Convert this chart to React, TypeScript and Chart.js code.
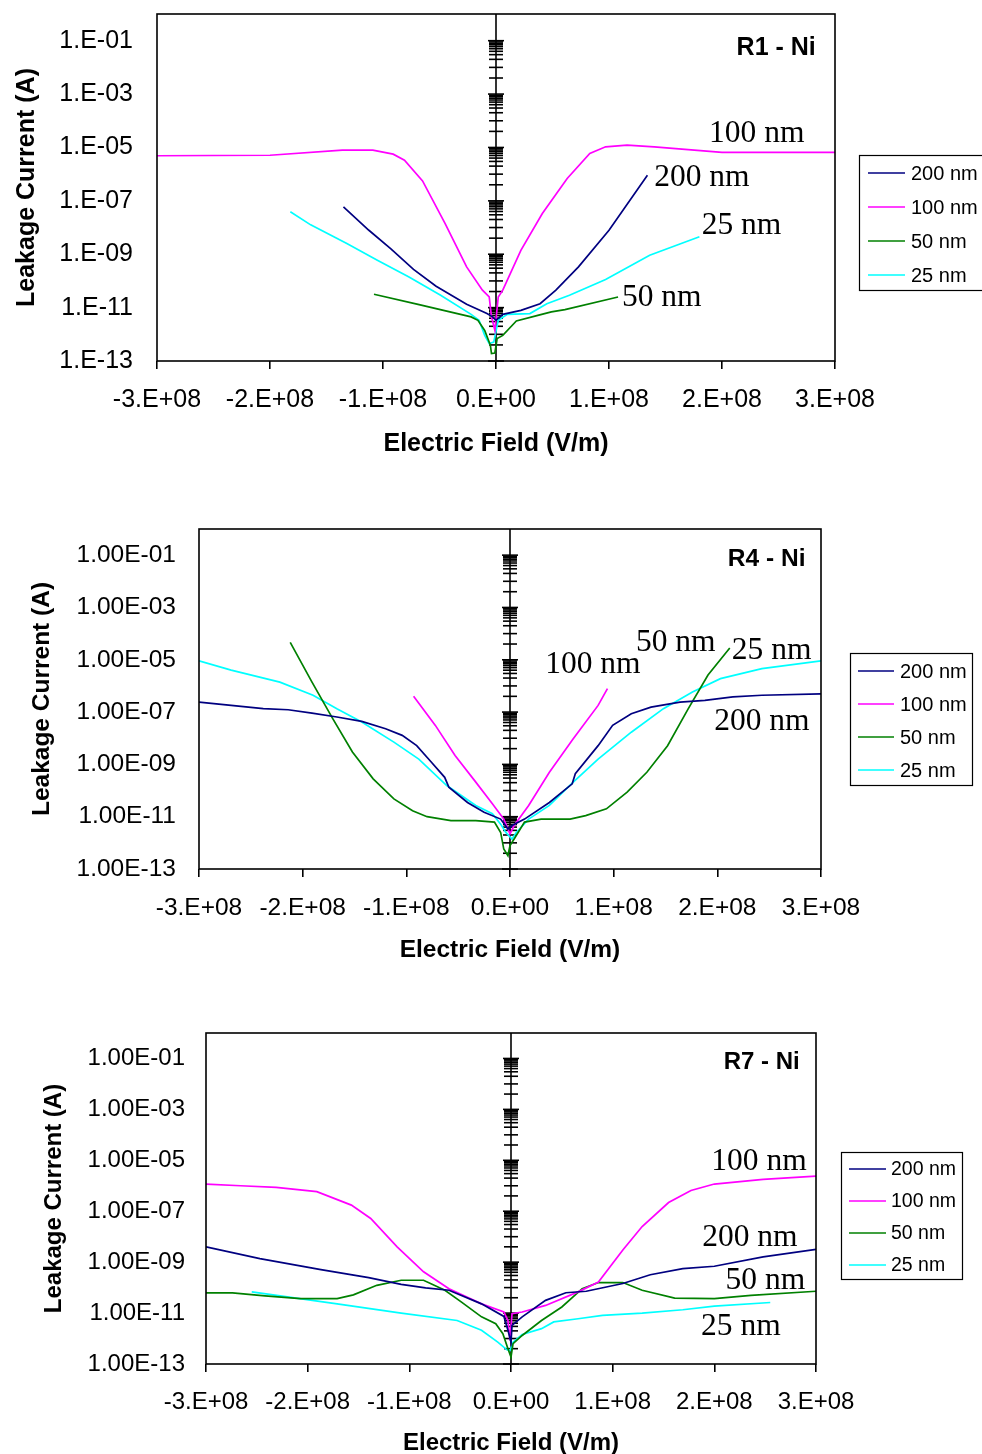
import React, { useEffect, useRef } from 'react';
import { Chart, registerables } from 'chart.js';

Chart.register(...registerables);

// ---------- shared axis data ----------
const xTickValues = [-3e8, -2e8, -1e8, 0, 1e8, 2e8, 3e8];
const xTickLabels = ['-3.E+08', '-2.E+08', '-1.E+08', '0.E+00', '1.E+08', '2.E+08', '3.E+08'];
const yTickValues = [1e-13, 1e-11, 1e-9, 1e-7, 1e-5, 1e-3, 1e-1];
const yTickLabelsShort = ['1.E-13', '1.E-11', '1.E-09', '1.E-07', '1.E-05', '1.E-03', '1.E-01'];
const yTickLabelsLong = ['1.00E-13', '1.00E-11', '1.00E-09', '1.00E-07', '1.00E-05', '1.00E-03', '1.00E-01'];
const centerAxisMinorFactors = [4, 10, 20, 30, 40, 50, 60, 70, 80, 90];
const seriesNames = ['200 nm', '100 nm', '50 nm', '25 nm'];
const seriesColors = ['#000080', '#FF00FF', '#008000', '#00FFFF'];

// ---------- R1 - Ni ----------
const R1_E_200 = [-1.35e8, -1.125e8, -0.93e8, -0.73e8, -0.53e8, -0.26e8, -0.08e8, -0.03e8, 0, 0.06e8, 0.22e8, 0.39e8, 0.53e8, 0.73e8, 1.0e8, 1.34e8];
const R1_I_200 = [6.0e-8, 7.9e-9, 1.6e-9, 2.7e-10, 6.3e-11, 1.33e-11, 6.0e-12, 4.5e-12, 3.35e-12, 5.6e-12, 7.9e-12, 1.4e-11, 4.5e-11, 3.35e-10, 7.9e-9, 9.1e-7];
const R1_E_100 = [-3.0e8, -2.0e8, -1.36e8, -1.09e8, -0.91e8, -0.81e8, -0.65e8, -0.45e8, -0.26e8, -0.12e8, -0.06e8, -0.04e8, -0.01e8, 0.02e8, 0.06e8, 0.22e8, 0.41e8, 0.63e8, 0.83e8, 0.97e8, 1.16e8, 1.4e8, 2.0e8, 3.0e8];
const R1_I_100 = [4.9e-6, 5.1e-6, 7.9e-6, 7.9e-6, 5.6e-6, 3.35e-6, 5.6e-7, 1.4e-8, 3.35e-10, 4.5e-11, 2.5e-11, 4.5e-12, 1.4e-12, 2.5e-11, 4.5e-11, 1.4e-9, 3.35e-8, 6.9e-7, 6.0e-6, 1.06e-5, 1.23e-5, 1.06e-5, 6.5e-6, 6.5e-6];
const R1_E_50 = [-1.08e8, -0.69e8, -0.22e8, -0.16e8, -0.1e8, -0.05e8, -0.04e8, -0.01e8, 0.01e8, 0.06e8, 0.18e8, 0.37e8, 0.49e8, 0.61e8, 1.08e8];
const R1_I_50 = [3.16e-11, 1.33e-11, 4.5e-12, 3.35e-12, 1.4e-12, 3.9e-13, 1.9e-13, 2.0e-13, 6.9e-13, 9.1e-13, 3.16e-12, 5.1e-12, 6.9e-12, 8.4e-12, 2.5e-11];
const R1_E_25 = [-1.82e8, -1.64e8, -1.32e8, -1.05e8, -0.77e8, -0.49e8, -0.22e8, -0.15e8, -0.1e8, -0.06e8, -0.02e8, 0.02e8, 0.1e8, 0.3e8, 0.45e8, 0.65e8, 0.97e8, 1.36e8, 1.8e8];
const R1_I_25 = [3.9e-8, 1.26e-8, 2.5e-9, 6.0e-10, 1.4e-10, 2.9e-11, 5.6e-12, 3.35e-12, 9.1e-13, 4.5e-13, 5.1e-13, 3.35e-12, 5.6e-12, 6.0e-12, 1.4e-11, 2.9e-11, 1.12e-10, 9.1e-10, 4.5e-9];

// ---------- R4 - Ni ----------
const R4_E_200 = [-3.0e8, -2.69e8, -2.38e8, -2.14e8, -1.91e8, -1.67e8, -1.43e8, -1.2e8, -1.04e8, -0.9e8, -0.76e8, -0.63e8, -0.59e8, -0.41e8, -0.25e8, -0.09e8, -0.02e8, 0.02e8, 0.14e8, 0.38e8, 0.6e8, 0.63e8, 0.85e8, 0.99e8, 1.17e8, 1.36e8, 1.64e8, 1.88e8, 2.15e8, 2.43e8, 3.0e8];
const R4_I_200 = [2.4e-7, 1.8e-7, 1.35e-7, 1.23e-7, 9.1e-8, 6.5e-8, 4.4e-8, 2.3e-8, 1.29e-8, 5.2e-9, 1.23e-9, 3.2e-10, 1.35e-10, 3.5e-11, 1.48e-11, 8.1e-12, 3.4e-12, 4.6e-12, 8.1e-12, 3.5e-11, 1.8e-10, 4.4e-10, 5.2e-9, 3.1e-8, 8.7e-8, 1.55e-7, 2.4e-7, 2.8e-7, 3.8e-7, 4.4e-7, 5.0e-7];
const R4_E_100 = [-0.93e8, -0.72e8, -0.53e8, -0.33e8, -0.17e8, -0.06e8, 0, 0.04e8, 0.18e8, 0.38e8, 0.61e8, 0.85e8, 0.94e8];
const R4_I_100 = [4.0e-7, 3.1e-8, 2.2e-9, 2.1e-10, 3.1e-11, 8.1e-12, 2.2e-12, 4.6e-12, 2.7e-11, 5.0e-10, 9.5e-9, 1.8e-7, 7.9e-7];
const R4_E_50 = [-2.12e8, -1.91e8, -1.71e8, -1.52e8, -1.32e8, -1.12e8, -0.94e8, -0.8e8, -0.57e8, -0.33e8, -0.15e8, -0.09e8, -0.06e8, -0.02e8, 0, 0.04e8, 0.14e8, 0.3e8, 0.58e8, 0.73e8, 0.93e8, 1.13e8, 1.32e8, 1.52e8, 1.72e8, 1.91e8, 2.12e8];
const R4_I_50 = [4.6e-5, 1.4e-6, 5.6e-8, 3.0e-9, 2.8e-10, 4.8e-11, 1.7e-11, 1.0e-11, 7.1e-12, 7.1e-12, 6.2e-12, 2.5e-12, 5.8e-13, 3.2e-13, 7.9e-13, 1.4e-12, 6.2e-12, 8.1e-12, 8.1e-12, 1.1e-11, 2.0e-11, 8.7e-11, 5.0e-10, 5.2e-9, 1.35e-7, 2.6e-6, 2.8e-5];
const R4_E_25 = [-3.0e8, -2.69e8, -2.22e8, -1.9e8, -1.67e8, -1.43e8, -1.12e8, -0.88e8, -0.61e8, -0.33e8, -0.17e8, -0.09e8, -0.04e8, 0.02e8, 0.06e8, 0.18e8, 0.38e8, 0.61e8, 0.85e8, 1.17e8, 1.48e8, 1.76e8, 2.03e8, 2.43e8, 3.0e8];
const R4_I_25 = [9.1e-6, 4.0e-6, 1.4e-6, 4.4e-7, 1.35e-7, 4.2e-8, 7.1e-9, 1.6e-9, 1.55e-10, 2.7e-11, 1.3e-11, 5.2e-12, 2.5e-12, 1.4e-12, 2.5e-12, 8.1e-12, 2.7e-11, 2.1e-10, 1.6e-9, 1.7e-8, 1.35e-7, 5.9e-7, 1.9e-6, 4.6e-6, 9.1e-6];

// ---------- R7 - Ni ----------
const R7_E_200 = [-3.0e8, -2.47e8, -1.87e8, -1.4e8, -1.08e8, -0.84e8, -0.61e8, -0.29e8, -0.07e8, -0.03e8, 0, 0.01e8, 0.11e8, 0.34e8, 0.54e8, 0.74e8, 1.1e8, 1.37e8, 1.69e8, 2.0e8, 2.48e8, 3.0e8];
const R7_I_200 = [4.0e-9, 1.38e-9, 5.1e-10, 2.45e-10, 1.35e-10, 9.8e-11, 7.9e-11, 2.3e-11, 7.4e-12, 2.1e-12, 7.2e-13, 3.3e-12, 7.1e-12, 3.16e-11, 6.3e-11, 7.2e-11, 1.45e-10, 3.2e-10, 5.6e-10, 6.9e-10, 1.6e-9, 3.16e-9];
const R7_E_100 = [-3.0e8, -2.66e8, -2.31e8, -1.91e8, -1.57e8, -1.38e8, -1.12e8, -0.86e8, -0.61e8, -0.29e8, -0.07e8, -0.03e8, -0.01e8, 0.01e8, 0.11e8, 0.34e8, 0.66e8, 0.86e8, 1.1e8, 1.29e8, 1.55e8, 1.77e8, 2.0e8, 2.48e8, 3.0e8];
const R7_I_100 = [1.17e-6, 1.0e-6, 8.7e-7, 5.9e-7, 1.74e-7, 5.2e-8, 4.0e-9, 4.2e-10, 9.1e-11, 2.3e-11, 1.1e-11, 5.1e-12, 8.5e-13, 9.5e-12, 1.1e-11, 2.0e-11, 6.8e-11, 1.66e-10, 3.0e-9, 2.5e-8, 2.2e-7, 6.5e-7, 1.17e-6, 1.78e-6, 2.4e-6];
const R7_E_50 = [-3.0e8, -2.74e8, -2.42e8, -2.07e8, -1.71e8, -1.55e8, -1.32e8, -1.08e8, -0.86e8, -0.65e8, -0.49e8, -0.29e8, -0.15e8, -0.08e8, -0.03e8, 0, 0.02e8, 0.11e8, 0.3e8, 0.5e8, 0.7e8, 0.86e8, 1.1e8, 1.29e8, 1.61e8, 2.0e8, 2.36e8, 3.0e8];
const R7_I_50 = [6.2e-11, 6.2e-11, 4.7e-11, 3.7e-11, 3.7e-11, 5.2e-11, 1.23e-10, 1.95e-10, 1.95e-10, 7.9e-11, 2.75e-11, 7.1e-12, 3.8e-12, 1.55e-12, 4.0e-13, 1.86e-13, 6.3e-13, 1.32e-12, 5.1e-12, 1.74e-11, 9.1e-11, 1.58e-10, 1.58e-10, 7.9e-11, 3.9e-11, 3.7e-11, 5.0e-11, 7.2e-11];
const R7_E_25 = [-2.55e8, -2.27e8, -1.71e8, -1.08e8, -0.53e8, -0.29e8, -0.13e8, -0.04e8, -0.01e8, 0.02e8, 0.11e8, 0.3e8, 0.42e8, 0.66e8, 0.9e8, 1.29e8, 1.69e8, 2.0e8, 2.55e8];
const R7_I_25 = [6.8e-11, 4.7e-11, 2.3e-11, 1.0e-11, 5.1e-12, 2.1e-12, 7.2e-13, 3.6e-13, 3.4e-13, 7.2e-13, 1.45e-12, 2.45e-12, 4.5e-12, 6.0e-12, 8.1e-12, 1.0e-11, 1.35e-11, 1.86e-11, 2.6e-11];

const SANS = "'Liberation Sans', Arial, sans-serif";
const SERIF = "'Liberation Serif', 'Times New Roman', serif";

type Note = { text: string; x: number; y: number };
type Panel = {
  top: number; height: number;
  area: { left: number; right: number; top: number; bottom: number };
  tickFont: number; titleFont: number; legendFont: number; noteFont: number;
  yTickLabels: string[]; yTickPad: number; xTickPad: number;
  yTitlePad: number; xTitlePad: number;
  series: { e: number[]; i: number[] }[];
  title: Note; notes: Note[];
  legend: { left: number; top: number; width: number; height: number; first: number; gap: number; lineOff: number; lineLen: number; textGap: number };
};

const panels: Panel[] = [
  {
    top: 0, height: 480,
    area: { left: 157, right: 835, top: 14, bottom: 361 },
    tickFont: 25, titleFont: 25, legendFont: 20, noteFont: 31.5,
    yTickLabels: yTickLabelsShort, yTickPad: 24, xTickPad: 16,
    yTitlePad: 12, xTitlePad: 21,
    series: [
      { e: R1_E_200, i: R1_I_200 }, { e: R1_E_100, i: R1_I_100 },
      { e: R1_E_50, i: R1_I_50 }, { e: R1_E_25, i: R1_I_25 },
    ],
    title: { text: 'R1 - Ni', x: 2.83e8, y: 5.2e-2 },
    notes: [
      { text: '100 nm', x: 1.885e8, y: 3.2e-5 },
      { text: '200 nm', x: 1.40e8, y: 7.1e-7 },
      { text: '25 nm', x: 1.82e8, y: 1.15e-8 },
      { text: '50 nm', x: 1.115e8, y: 2.3e-11 },
    ],
    legend: { left: 859, top: 155, width: 150, height: 135, first: 173, gap: 34, lineOff: 9, lineLen: 37, textGap: 6 },
  },
  {
    top: 480, height: 495,
    area: { left: 199, right: 821, top: 49, bottom: 389 },
    tickFont: 24.5, titleFont: 24.5, legendFont: 20, noteFont: 31.5,
    yTickLabels: yTickLabelsLong, yTickPad: 23, xTickPad: 17,
    yTitlePad: 27.3, xTitlePad: 10.3,
    series: [
      { e: R4_E_200, i: R4_I_200 }, { e: R4_E_100, i: R4_I_100 },
      { e: R4_E_50, i: R4_I_50 }, { e: R4_E_25, i: R4_I_25 },
    ],
    title: { text: 'R4 - Ni', x: 2.85e8, y: 6.8e-2 },
    notes: [
      { text: '100 nm', x: 0.34e8, y: 6.6e-6 },
      { text: '50 nm', x: 1.215e8, y: 4.3e-5 },
      { text: '25 nm', x: 2.14e8, y: 2.3e-5 },
      { text: '200 nm', x: 1.97e8, y: 4.1e-8 },
    ],
    legend: { left: 850, top: 173, width: 122, height: 132, first: 191, gap: 33, lineOff: 8, lineLen: 36, textGap: 6 },
  },
  {
    top: 975, height: 500,
    area: { left: 206, right: 816, top: 58, bottom: 389 },
    tickFont: 24, titleFont: 24, legendFont: 19.5, noteFont: 31.5,
    yTickLabels: yTickLabelsLong, yTickPad: 21, xTickPad: 15.6,
    yTitlePad: 39.6, xTitlePad: 17.6,
    series: [
      { e: R7_E_200, i: R7_I_200 }, { e: R7_E_100, i: R7_I_100 },
      { e: R7_E_50, i: R7_I_50 }, { e: R7_E_25, i: R7_I_25 },
    ],
    title: { text: 'R7 - Ni', x: 2.84e8, y: 7.1e-2 },
    notes: [
      { text: '100 nm', x: 1.97e8, y: 8.9e-6 },
      { text: '200 nm', x: 1.88e8, y: 9.1e-9 },
      { text: '50 nm', x: 2.11e8, y: 1.86e-10 },
      { text: '25 nm', x: 1.87e8, y: 2.9e-12 },
    ],
    legend: { left: 841, top: 177, width: 121, height: 127, first: 194, gap: 32, lineOff: 8, lineLen: 37, textGap: 5 },
  },
];

const axisPlugin = {
  id: 'centerAxis',
  beforeDatasetsDraw(chart: any) {
    const { ctx, chartArea: a, scales } = chart;
    const x = scales.x, y = scales.y;
    const x0 = x.getPixelForValue(0);
    ctx.save();
    ctx.strokeStyle = '#000';
    ctx.lineWidth = 1.6;
    ctx.beginPath();
    ctx.moveTo(x0, a.top);
    ctx.lineTo(x0, a.bottom);
    ctx.stroke();
    for (let k = 0; k < yTickValues.length; k++) {
      const major = yTickValues[k];
      const py = y.getPixelForValue(major);
      ctx.beginPath();
      ctx.moveTo(x0 - 8, py);
      ctx.lineTo(x0 + 8, py);
      ctx.stroke();
      if (k < yTickValues.length - 1) {
        for (const f of centerAxisMinorFactors) {
          const pm = y.getPixelForValue(major * f);
          ctx.beginPath();
          ctx.moveTo(x0 - 7, pm);
          ctx.lineTo(x0 + 7, pm);
          ctx.stroke();
        }
      }
    }
    ctx.restore();
  },
  afterDraw(chart: any, _args: any, opts: any) {
    const p: Panel = opts.panel;
    const { ctx, chartArea: a, scales } = chart;
    const x = scales.x, y = scales.y;
    ctx.save();
    ctx.strokeStyle = '#000';
    ctx.lineWidth = 1.6;
    ctx.strokeRect(a.left, a.top, a.right - a.left, a.bottom - a.top);
    ctx.fillStyle = '#000';
    ctx.textBaseline = 'middle';
    ctx.font = `bold ${p.titleFont}px ${SANS}`;
    ctx.textAlign = 'right';
    ctx.fillText(p.title.text, x.getPixelForValue(p.title.x), y.getPixelForValue(p.title.y));
    ctx.font = `${p.noteFont}px ${SERIF}`;
    ctx.textAlign = 'left';
    for (const n of p.notes) {
      ctx.fillText(n.text, x.getPixelForValue(n.x), y.getPixelForValue(n.y));
    }
    const L = p.legend;
    ctx.fillStyle = '#fff';
    ctx.fillRect(L.left, L.top, L.width, L.height);
    ctx.strokeStyle = '#000';
    ctx.lineWidth = 1.2;
    ctx.strokeRect(L.left + 0.5, L.top + 0.5, L.width, L.height);
    ctx.font = `${p.legendFont}px ${SANS}`;
    chart.data.datasets.forEach((ds: any, idx: number) => {
      const cy = L.first + idx * L.gap;
      ctx.strokeStyle = ds.borderColor;
      ctx.lineWidth = 1.6;
      ctx.beginPath();
      ctx.moveTo(L.left + L.lineOff, cy);
      ctx.lineTo(L.left + L.lineOff + L.lineLen, cy);
      ctx.stroke();
      ctx.fillStyle = '#000';
      ctx.fillText(ds.label, L.left + L.lineOff + L.lineLen + L.textGap, cy + 1);
    });
    ctx.restore();
  },
};

function PanelChart({ p }: { p: Panel }) {
  const ref = useRef<HTMLCanvasElement | null>(null);
  useEffect(() => {
    if (!ref.current) return;
    const chart = new Chart(ref.current, {
      type: 'line',
      data: {
        datasets: p.series.map((s, idx) => ({
          label: seriesNames[idx],
          data: s.e.map((e, j) => ({ x: e, y: s.i[j] })),
          borderColor: seriesColors[idx],
          backgroundColor: seriesColors[idx],
          borderWidth: 1.7,
          pointRadius: 0,
          tension: 0,
          fill: false,
        })),
      },
      options: {
        responsive: false,
        animation: false,
        devicePixelRatio: 1,
        layout: {
          padding: { left: 0, top: p.area.top, right: 982 - p.area.right, bottom: 0 },
        },
        plugins: {
          legend: { display: false },
          tooltip: { enabled: false },
          centerAxis: { panel: p },
        } as any,
        scales: {
          x: {
            type: 'linear',
            min: -3e8,
            max: 3e8,
            afterBuildTicks: (scale: any) => {
              scale.ticks = xTickValues.map((v) => ({ value: v }));
            },
            afterFit: (scale: any) => {
              scale.height = p.height - p.area.bottom;
              scale.paddingLeft = 0;
              scale.paddingRight = 0;
            },
            ticks: {
              callback: (_v: any, i: number) => xTickLabels[i],
              color: '#000',
              font: { size: p.tickFont, family: SANS },
              padding: p.xTickPad,
              maxRotation: 0,
              autoSkip: false,
            },
            grid: { drawOnChartArea: false, drawTicks: true, tickLength: 8, color: '#000', lineWidth: 1.6 },
            border: { display: false },
            title: {
              display: true,
              text: 'Electric Field (V/m)',
              color: '#000',
              font: { size: p.titleFont, weight: 'bold', family: SANS },
              padding: { top: 0, bottom: p.xTitlePad },
            },
          },
          y: {
            type: 'logarithmic',
            min: 1e-13,
            max: 1,
            afterBuildTicks: (scale: any) => {
              scale.ticks = yTickValues.map((v) => ({ value: v }));
            },
            afterFit: (scale: any) => {
              scale.width = p.area.left;
              scale.paddingTop = 0;
              scale.paddingBottom = 0;
            },
            ticks: {
              callback: (_v: any, i: number) => p.yTickLabels[i],
              color: '#000',
              font: { size: p.tickFont, family: SANS, lineHeight: 1 },
              padding: p.yTickPad,
              autoSkip: false,
            },
            grid: { drawOnChartArea: false, drawTicks: false, tickLength: 0, color: '#000' },
            border: { display: false },
            title: {
              display: true,
              text: 'Leakage Current (A)',
              color: '#000',
              font: { size: p.titleFont, weight: 'bold', family: SANS },
              padding: { top: p.yTitlePad, bottom: 0 },
            },
          },
        },
      } as any,
      plugins: [axisPlugin],
    });
    return () => chart.destroy();
  }, [p]);
  return (
    <canvas
      ref={ref}
      width={982}
      height={p.height}
      style={{ position: 'absolute', left: 0, top: p.top, width: 982, height: p.height, display: 'block' }}
    />
  );
}

export default function App() {
  return (
    <div style={{ position: 'absolute', left: 0, top: 0, width: 982, height: 1454, overflow: 'hidden', background: '#fff' }}>
      {panels.map((p, i) => (
        <PanelChart key={i} p={p} />
      ))}
    </div>
  );
}
